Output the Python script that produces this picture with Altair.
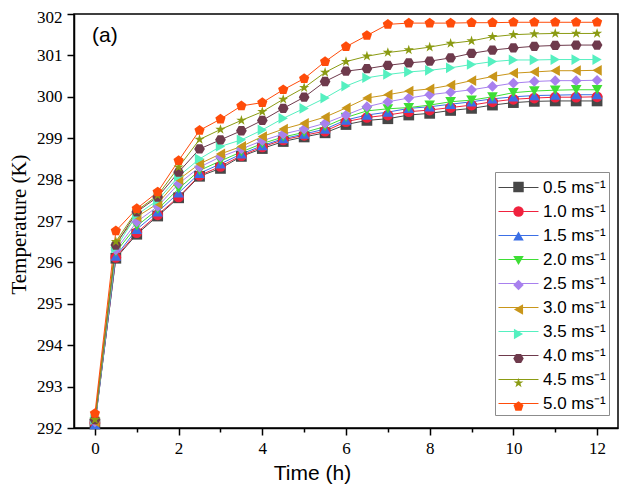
import altair as alt
import pandas as pd

times = [0, 0.5, 1, 1.5, 2, 2.5, 3, 3.5, 4, 4.5, 5, 5.5, 6, 6.5, 7, 7.5, 8, 8.5, 9, 9.5, 10, 10.5, 11, 11.5, 12]

series_names = ["0.5 ms⁻¹", "1.0 ms⁻¹", "1.5 ms⁻¹", "2.0 ms⁻¹", "2.5 ms⁻¹",
                "3.0 ms⁻¹", "3.5 ms⁻¹", "4.0 ms⁻¹", "4.5 ms⁻¹", "5.0 ms⁻¹"]

s05 = [292.10, 296.10, 296.68, 297.12, 297.56, 298.08, 298.27, 298.56, 298.75, 298.92, 299.03, 299.13, 299.33,
       299.43, 299.47, 299.56, 299.60, 299.67, 299.72, 299.80, 299.86, 299.89, 299.90, 299.90, 299.90]
s10 = [292.12, 296.12, 296.72, 297.15, 297.58, 298.10, 298.32, 298.58, 298.79, 298.96, 299.07, 299.17, 299.40,
       299.50, 299.56, 299.64, 299.68, 299.74, 299.80, 299.88, 299.94, 299.97, 299.99, 299.99, 300.00]
s15 = [292.08, 296.15, 296.80, 297.22, 297.68, 298.15, 298.38, 298.62, 298.82, 298.99, 299.10, 299.22, 299.44,
       299.56, 299.63, 299.72, 299.76, 299.82, 299.88, 299.95, 300.00, 300.03, 300.04, 300.05, 300.05]
s20 = [292.15, 296.25, 296.88, 297.28, 297.78, 298.22, 298.45, 298.67, 298.87, 299.03, 299.14, 299.28, 299.50,
       299.66, 299.71, 299.74, 299.80, 299.88, 299.92, 300.00, 300.10, 300.14, 300.16, 300.17, 300.17]
s25 = [292.15, 296.30, 296.98, 297.35, 297.90, 298.30, 298.55, 298.74, 298.94, 299.10, 299.22, 299.36, 299.56,
       299.76, 299.88, 299.97, 300.05, 300.11, 300.17, 300.25, 300.33, 300.37, 300.39, 300.39, 300.40]
s30 = [292.15, 296.48, 297.10, 297.42, 298.00, 298.38, 298.62, 298.80, 299.04, 299.22, 299.36, 299.51, 299.73,
       299.97, 300.05, 300.14, 300.19, 300.28, 300.39, 300.49, 300.57, 300.60, 300.63, 300.63, 300.64]
s35 = [292.20, 296.35, 297.15, 297.50, 298.08, 298.50, 298.80, 298.96, 299.20, 299.48, 299.72, 299.97, 300.26,
       300.46, 300.54, 300.60, 300.64, 300.70, 300.78, 300.85, 300.89, 300.89, 300.90, 300.90, 300.90]
s40 = [292.20, 296.42, 297.22, 297.58, 298.18, 298.74, 298.96, 299.18, 299.43, 299.72, 299.99, 300.37, 300.62,
       300.68, 300.76, 300.82, 300.86, 300.94, 301.05, 301.13, 301.18, 301.22, 301.24, 301.25, 301.25]
s45 = [292.20, 296.50, 297.25, 297.62, 298.30, 298.97, 299.21, 299.43, 299.64, 299.94, 300.22, 300.59, 300.85,
       300.98, 301.07, 301.13, 301.20, 301.29, 301.35, 301.45, 301.50, 301.52, 301.53, 301.53, 301.53]
s50 = [292.35, 296.76, 297.30, 297.70, 298.46, 299.19, 299.46, 299.78, 299.86, 300.17, 300.44, 300.85, 301.21,
       301.48, 301.75, 301.78, 301.78, 301.78, 301.79, 301.79, 301.80, 301.80, 301.80, 301.80, 301.80]

all_series = [s05, s10, s15, s20, s25, s30, s35, s40, s45, s50]

colors = ["#474747", "#f0223e", "#3b6fe6", "#3ede35", "#a880ee",
          "#c9961a", "#55f0c0", "#6e3a4c", "#8b9b13", "#ff4c0a"]

hexagon = "M-1,0L-0.5,-0.866L0.5,-0.866L1,0L0.5,0.866L-0.5,0.866Z"
pentagon = "M0,-1L0.951,-0.309L0.588,0.809L-0.588,0.809L-0.951,-0.309Z"
star = ("M0,-1L0.2234,-0.3074L0.951,-0.309L0.3614,0.1174L0.588,0.809L0,0.38"
        "L-0.588,0.809L-0.3614,0.1174L-0.951,-0.309L-0.2234,-0.3074Z")
shapes = ["square", "circle", "triangle-up", "triangle-down", "diamond",
          "triangle-left", "triangle-right", hexagon, star, pentagon]

rows = []
for name, vals in zip(series_names, all_series):
    for t, v in zip(times, vals):
        rows.append({"time": t, "temp": v, "series": name, "series2": name})
df = pd.DataFrame(rows)

x_vals = list(range(0, 13))
y_vals = [292 + 0.5 * i for i in range(21)]

x_enc = alt.X("time:Q",
              scale=alt.Scale(domain=[-0.5, 12.5], nice=False, zero=False),
              axis=alt.Axis(values=x_vals, grid=False, title="Time (h)",
                            labelExpr="datum.value % 2 === 0 ? datum.label : ''",
                            tickSize={"condition": {"test": "datum.value % 2 !== 0", "value": 4}, "value": 7},
                            labelOverlap=False, labelFont="Liberation Serif", labelFontSize=17,
                            labelPadding=5, titleFont="Liberation Sans", titleFontSize=21,
                            titleFontWeight="normal", titleX=238, titleY=51,
                            titleBaseline="alphabetic", titleAlign="center"))
y_enc = alt.Y("temp:Q",
              scale=alt.Scale(domain=[292, 302], nice=False, zero=False),
              axis=alt.Axis(values=y_vals, grid=False, title="Temperature (K)",
                            labelExpr="datum.value % 1 === 0 ? datum.label : ''",
                            tickSize={"condition": {"test": "datum.value % 1 !== 0", "value": 4}, "value": 7},
                            labelOffset={"condition": {"test": "datum.value === 302", "value": 3}, "value": 0},
                            labelOverlap=False, labelFont="Liberation Serif", labelFontSize=17,
                            labelPadding=5, titleFont="Liberation Serif", titleFontSize=21,
                            titleFontWeight="normal", titleX=-49, titleY=210,
                            titleBaseline="alphabetic", titleAlign="center", titleAngle=270))

# legend 1: line segments + labels (box)
leg1 = alt.Legend(orient="none", legendX=421, legendY=158, title=None,
                  symbolType="M-1,0H2.333", symbolSize=576, symbolStrokeWidth=1,
                  symbolFillColor="transparent",
                  labelFont="Liberation Sans", labelFontSize=17, labelColor="black",
                  labelOffset=20, padding=3, rowPadding=3,
                  strokeColor="#8c8c8c", labelLimit=200)

# legend 2: markers only (empty labels), drawn over the line segments
leg2 = alt.Legend(orient="none", legendX=436, legendY=164.5, title=None,
                  symbolSize=110, symbolOpacity=1, symbolStrokeWidth=0,
                  labelExpr="''", labelFontSize=1,
                  labelOffset=0, padding=3, rowPadding=13.5, labelLimit=200)

lines = alt.Chart(df).mark_line(strokeWidth=1).encode(
    x=x_enc, y=y_enc,
    color=alt.Color("series:N", sort=series_names,
                    scale=alt.Scale(domain=series_names, range=colors), legend=leg1),
)

points = alt.Chart(df).mark_point(filled=True, opacity=1, size=115, strokeWidth=0).encode(
    x="time:Q", y="temp:Q",
    color=alt.Color("series2:N", sort=series_names,
                    scale=alt.Scale(domain=series_names, range=colors), legend=leg2),
    shape=alt.Shape("series2:N", sort=series_names,
                    scale=alt.Scale(domain=series_names, range=shapes), legend=leg2),
)

label = alt.Chart(pd.DataFrame({"label": ["(a)"]})).mark_text(
    font="Liberation Sans", fontSize=21, align="left", baseline="alphabetic", color="black"
).encode(text="label:N", x=alt.value(18), y=alt.value(28))

chart = alt.layer(lines, points, label).resolve_scale(
    color="independent", shape="independent"
).properties(
    width=544, height=414,
    autosize=alt.AutoSizeParams(type="none"),
    padding={"left": 66, "top": 6, "right": 14, "bottom": 58},
).configure_view(
    stroke="black", strokeWidth=1.5
).configure_axis(
    domainColor="black", domainWidth=1.5, tickColor="black", tickWidth=1.5,
    labelColor="black", titleColor="black"
)

chart.save("out.html", embed_options={"renderer": "svg", "actions": False})
